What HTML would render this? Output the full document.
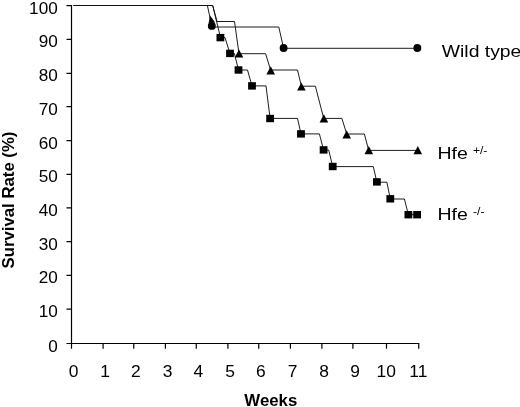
<!DOCTYPE html>
<html><head><meta charset="utf-8"><title>Survival Rate</title>
<style>html,body{margin:0;padding:0;background:#fff}svg{display:block}</style></head>
<body>
<svg xmlns="http://www.w3.org/2000/svg" width="520" height="407" viewBox="0 0 520 407">
<rect width="520" height="407" fill="#fff"/>
<g stroke="#000" stroke-width="1.2" fill="none">
<path d="M71.5 5.1V348.8M66.5 343.5H419.25"/>
<path d="M66.5 5.60H71.5M66.5 39.40H71.5M66.5 73.40H71.5M66.5 106.60H71.5M66.5 140.60H71.5M66.5 174.40H71.5M66.5 207.90H71.5M66.5 241.70H71.5M66.5 275.40H71.5M66.5 309.20H71.5M103.1 343.5V348.8M133.75 343.5V348.8M165.4 343.5V348.8M196.25 343.5V348.8M227.9 343.5V348.8M258.75 343.5V348.8M290.4 343.5V348.8M321.9 343.5V348.8M352.9 343.5V348.8M386.5 343.5V348.8M418.75 343.5V348.8"/>
</g>
<g stroke="#111" stroke-width="0.95" fill="none" stroke-linejoin="round">
<path d="M73.5 5.5H207.4L212 27H278.8L283.6 48.3H417.3"/>
<path d="M73.5 5.5H212.7L217 21.5H234.5L239 53.7H265.6L270.6 70H297.5L301.4 86.2H315.4L323.7 118.4H341.9L346.7 134H364.4L368.7 150.4H417.8"/>
<path d="M73.5 5.5H212.7L220.5 37.6H225L230 53.5H234.4L238.5 70H247.5L252 85.9H266L270.1 118.4H297.5L301 133.9H319.4L323.6 150H328.7L332.7 166.6H373.3L376.9 182.2H386.9L390.3 199H404.4L408.4 214.7H417"/>
</g>
<g fill="#000">
<path d="M210 15.5L208.6 23L215.2 22.6Z"/>
<circle cx="211.8" cy="25.9" r="3.95"/>
<circle cx="283.6" cy="48" r="3.95"/>
<circle cx="417.3" cy="48" r="3.95"/>
<path d="M239.0 49.4L243.3 57.6H234.7Z"/>
<path d="M270.7 66.2L275.0 74.4H266.4Z"/>
<path d="M301.4 82.4L305.7 90.6H297.1Z"/>
<path d="M323.9 114.3L328.2 122.5H319.6Z"/>
<path d="M346.7 130.3L351.0 138.5H342.4Z"/>
<path d="M368.8 146.0L373.1 154.2H364.5Z"/>
<path d="M417.8 146.0L422.1 154.2H413.5Z"/>
<rect x="216.5" y="33.9" width="7.8" height="7.4"/>
<rect x="226.1" y="49.7" width="7.8" height="7.4"/>
<rect x="234.6" y="66.3" width="7.8" height="7.4"/>
<rect x="248.1" y="82.2" width="7.8" height="7.4"/>
<rect x="266.2" y="114.8" width="7.8" height="7.4"/>
<rect x="297.1" y="130.2" width="7.8" height="7.4"/>
<rect x="319.7" y="146.2" width="7.8" height="7.4"/>
<rect x="328.8" y="162.8" width="7.8" height="7.4"/>
<rect x="373.0" y="178.2" width="7.8" height="7.4"/>
<rect x="386.4" y="195.1" width="7.8" height="7.4"/>
<rect x="404.5" y="211.0" width="7.8" height="7.4"/>
<rect x="413.2" y="211.0" width="7.8" height="7.4"/>
</g>
<g font-family="'Liberation Sans', sans-serif" fill="#000">
<text transform="translate(57.7 13.6) scale(1.1 1)" font-size="15.6" text-anchor="end">100</text>
<text transform="translate(57.7 47.4) scale(1.1 1)" font-size="15.6" text-anchor="end">90</text>
<text transform="translate(57.7 81.4) scale(1.1 1)" font-size="15.6" text-anchor="end">80</text>
<text transform="translate(57.7 114.6) scale(1.1 1)" font-size="15.6" text-anchor="end">70</text>
<text transform="translate(57.7 148.6) scale(1.1 1)" font-size="15.6" text-anchor="end">60</text>
<text transform="translate(57.7 182.4) scale(1.1 1)" font-size="15.6" text-anchor="end">50</text>
<text transform="translate(57.7 215.9) scale(1.1 1)" font-size="15.6" text-anchor="end">40</text>
<text transform="translate(57.7 249.7) scale(1.1 1)" font-size="15.6" text-anchor="end">30</text>
<text transform="translate(57.7 283.4) scale(1.1 1)" font-size="15.6" text-anchor="end">20</text>
<text transform="translate(57.7 317.2) scale(1.1 1)" font-size="15.6" text-anchor="end">10</text>
<text transform="translate(57.7 351.5) scale(1.1 1)" font-size="15.6" text-anchor="end">0</text>
<text transform="translate(73.6 376.8) scale(1.09 1)" font-size="16" text-anchor="middle">0</text>
<text transform="translate(105.2 376.8) scale(1.09 1)" font-size="16" text-anchor="middle">1</text>
<text transform="translate(135.8 376.8) scale(1.09 1)" font-size="16" text-anchor="middle">2</text>
<text transform="translate(167.5 376.8) scale(1.09 1)" font-size="16" text-anchor="middle">3</text>
<text transform="translate(198.3 376.8) scale(1.09 1)" font-size="16" text-anchor="middle">4</text>
<text transform="translate(230.0 376.8) scale(1.09 1)" font-size="16" text-anchor="middle">5</text>
<text transform="translate(260.9 376.8) scale(1.09 1)" font-size="16" text-anchor="middle">6</text>
<text transform="translate(292.5 376.8) scale(1.09 1)" font-size="16" text-anchor="middle">7</text>
<text transform="translate(324.0 376.8) scale(1.09 1)" font-size="16" text-anchor="middle">8</text>
<text transform="translate(355.0 376.8) scale(1.09 1)" font-size="16" text-anchor="middle">9</text>
<text transform="translate(386.2 376.8) scale(1.09 1)" font-size="16" text-anchor="middle">10</text>
<text transform="translate(418.4 376.8) scale(1.09 1)" font-size="16" text-anchor="middle">11</text>
<text transform="translate(270.8 405.7) scale(1.05 1)" font-size="16" font-weight="bold" text-anchor="middle">Weeks</text>
<text transform="translate(13.8 200) rotate(-90) scale(1.047 1.05)" font-size="16" font-weight="bold" text-anchor="middle">Survival Rate (%)</text>
<text transform="translate(441.8 57.1) scale(1.138 1)" font-size="17">Wild type</text>
<text transform="translate(437.4 158.6) scale(1.148 1)" font-size="17">Hfe</text>
<text transform="translate(472.9 153.7) scale(1.1 1)" font-size="11">+/-</text>
<text transform="translate(437.5 219.8) scale(1.148 1)" font-size="17">Hfe</text>
<text transform="translate(473.0 215.0) scale(1.1 1)" font-size="11">-/-</text>
</g>
</svg>
</body></html>
